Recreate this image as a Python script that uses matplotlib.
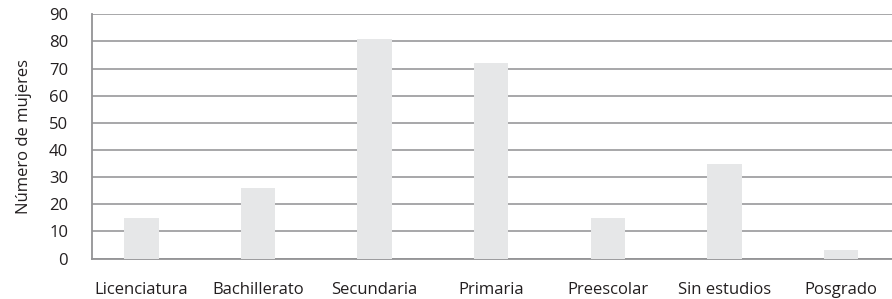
import matplotlib
matplotlib.use("Agg")
import matplotlib.pyplot as plt

categories = ["Licenciatura", "Bachillerato", "Secundaria", "Primaria", "Preescolar", "Sin estudios", "Posgrado"]
values = [15, 26, 81, 72, 15, 35, 3]
yticks = [0, 10, 20, 30, 40, 50, 60, 70, 80, 90]

plt.rcParams['font.family'] = ['Open Sans', 'DejaVu Sans']

fig = plt.figure(figsize=(8.92, 2.99), dpi=100)
ax = fig.add_axes([0.1028, 0.135, 0.897, 0.817])

x = list(range(len(categories)))
ax.bar(x, values, width=0.295, color="#e6e7e8", zorder=3)

ax.set_ylim(0, 90)
ax.set_xlim(-0.427, 6.435)
ax.set_yticks(yticks)
ax.set_xticks(x)
ax.set_xticklabels(categories)
ax.yaxis.grid(True, color="#a0a0a2", linewidth=1.3, zorder=0)
ax.set_axisbelow(True)
for s in ["right", "top"]:
    ax.spines[s].set_visible(False)
for s in ["left", "bottom"]:
    ax.spines[s].set_color("#939395")
    ax.spines[s].set_linewidth(1.3)
ax.tick_params(axis="both", length=0, labelsize=12, colors="#231f20")
ax.tick_params(axis="y", pad=17)
ax.tick_params(axis="x", pad=17)
ax.set_ylabel("Número de mujeres", fontsize=12, color="#231f20", labelpad=12)

fig.savefig("out.png", dpi=100)
